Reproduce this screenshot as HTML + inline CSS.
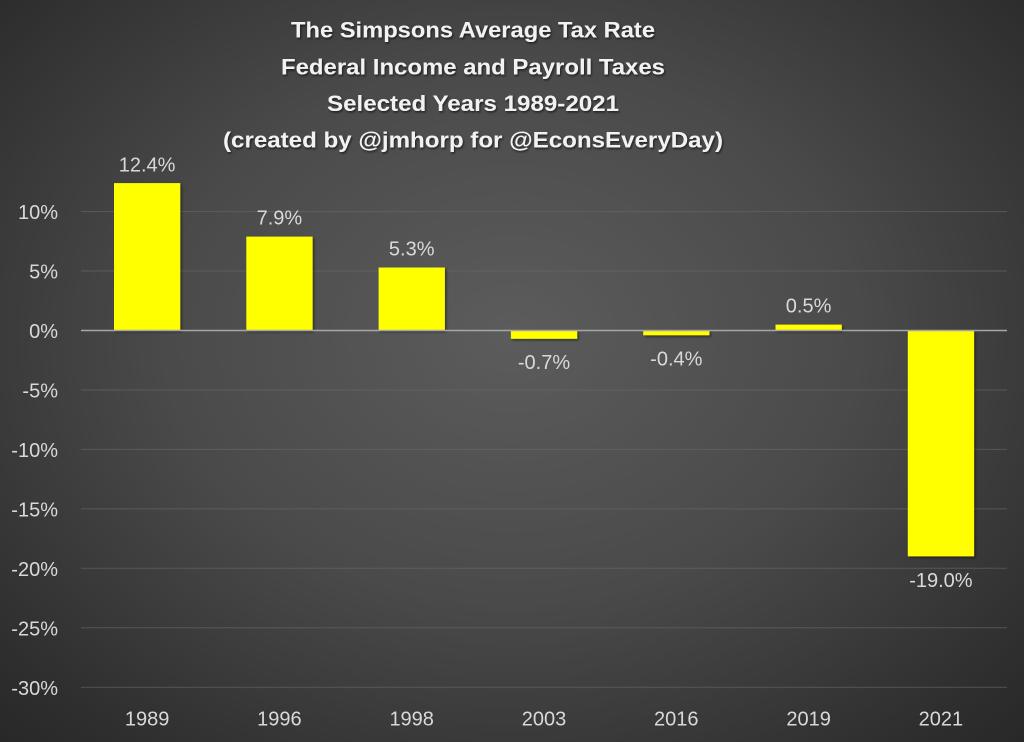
<!DOCTYPE html>
<html>
<head>
<meta charset="utf-8">
<style>
  html,body{margin:0;padding:0;}
  body{width:1024px;height:742px;overflow:hidden;
    background: radial-gradient(ellipse 75% 80% at 50% 45%, #5c5c5c 0%, #4a4a4a 45%, #2e2e2e 85%, #262626 100%);}
  svg{display:block;}
  text{font-family:"Liberation Sans", sans-serif;}
</style>
</head>
<body>
<svg width="1024" height="742" viewBox="0 0 1024 742" xmlns="http://www.w3.org/2000/svg">
  <defs>
    <filter id="sh" x="-10%" y="-10%" width="120%" height="140%">
      <feDropShadow dx="1" dy="1.5" stdDeviation="1" flood-color="#000" flood-opacity="0.6"/>
    </filter>
    <filter id="bsh" x="-10%" y="-10%" width="130%" height="130%">
      <feDropShadow dx="1.5" dy="1.5" stdDeviation="1.2" flood-color="#000" flood-opacity="0.45"/>
    </filter>
  </defs>

  <!-- Title -->
  <g fill="#f2f2f2" font-weight="bold" font-size="22.5" text-anchor="middle" filter="url(#sh)">
    <text x="473" y="37.5" textLength="364" lengthAdjust="spacingAndGlyphs">The Simpsons Average Tax Rate</text>
    <text x="473" y="74.5" textLength="384" lengthAdjust="spacingAndGlyphs">Federal Income and Payroll Taxes</text>
    <text x="473" y="111" textLength="292" lengthAdjust="spacingAndGlyphs">Selected Years 1989-2021</text>
    <text x="473" y="147.5" textLength="500" lengthAdjust="spacingAndGlyphs">(created by @jmhorp for @EconsEveryDay)</text>
  </g>

  <!-- Gridlines -->
  <g stroke="#6a6a6a" stroke-width="1" opacity="0.6">
    <line x1="81" y1="211.6" x2="1007" y2="211.6"/>
    <line x1="81" y1="271.05" x2="1007" y2="271.05"/>
    <line x1="81" y1="389.95" x2="1007" y2="389.95"/>
    <line x1="81" y1="449.4" x2="1007" y2="449.4"/>
    <line x1="81" y1="508.85" x2="1007" y2="508.85"/>
    <line x1="81" y1="568.3" x2="1007" y2="568.3"/>
    <line x1="81" y1="627.75" x2="1007" y2="627.75"/>
    <line x1="81" y1="687.2" x2="1007" y2="687.2"/>
  </g>

  <!-- Bars -->
  <g fill="#ffff00" filter="url(#bsh)">
    <rect x="114" y="183.1" width="66.3" height="147.4"/>
    <rect x="246.3" y="236.6" width="66.3" height="93.9"/>
    <rect x="378.6" y="267.5" width="66.3" height="63.0"/>
    <rect x="510.9" y="330.5" width="66.3" height="8.3"/>
    <rect x="643.2" y="330.5" width="66.3" height="4.8"/>
    <rect x="775.5" y="324.6" width="66.3" height="5.9"/>
    <rect x="907.8" y="330.5" width="66.3" height="225.9"/>
  </g>

  <!-- Zero line -->
  <line x1="81" y1="330.5" x2="1007" y2="330.5" stroke="#a6a6a6" stroke-width="1.5"/>

  <!-- Y axis labels -->
  <g fill="#d9d9d9" font-size="20" text-anchor="end">
    <text x="58" y="219">10%</text>
    <text x="58" y="278.5">5%</text>
    <text x="58" y="338">0%</text>
    <text x="58" y="397.5">-5%</text>
    <text x="58" y="457">-10%</text>
    <text x="58" y="516.5">-15%</text>
    <text x="58" y="576">-20%</text>
    <text x="58" y="635.5">-25%</text>
    <text x="58" y="695">-30%</text>
  </g>

  <!-- Category labels -->
  <g fill="#d9d9d9" font-size="20" text-anchor="middle">
    <text x="147.1" y="725.5">1989</text>
    <text x="279.4" y="725.5">1996</text>
    <text x="411.7" y="725.5">1998</text>
    <text x="544.0" y="725.5">2003</text>
    <text x="676.3" y="725.5">2016</text>
    <text x="808.6" y="725.5">2019</text>
    <text x="940.9" y="725.5">2021</text>
  </g>

  <!-- Data labels -->
  <g fill="#d9d9d9" font-size="20" text-anchor="middle">
    <text x="147.1" y="171.5">12.4%</text>
    <text x="279.4" y="224.5">7.9%</text>
    <text x="411.7" y="255.5">5.3%</text>
    <text x="544.0" y="369">-0.7%</text>
    <text x="676.3" y="365.5">-0.4%</text>
    <text x="808.6" y="312.5">0.5%</text>
    <text x="940.9" y="587">-19.0%</text>
  </g>
</svg>
</body>
</html>
